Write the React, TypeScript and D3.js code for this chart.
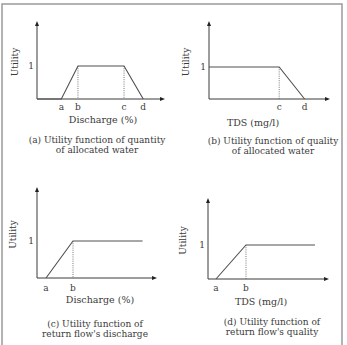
import React, { useEffect, useRef } from "react";
import * as d3 from "d3";

// breakpoints of each utility function, x in % of the axis length, u = utility
const utilA = [
  { x: 0, u: 0 },
  { x: 19, u: 0 },
  { x: 32, u: 1 },
  { x: 68, u: 1 },
  { x: 83, u: 0 },
];
const ticksA = [
  { label: "a", x: 19 },
  { label: "b", x: 32 },
  { label: "c", x: 68 },
  { label: "d", x: 83 },
];
const dottedA = [32, 68];

const utilB = [
  { x: 0, u: 1 },
  { x: 58, u: 1 },
  { x: 79, u: 0 },
];
const ticksB = [
  { label: "c", x: 58 },
  { label: "d", x: 79 },
];
const dottedB = [58];

const utilC = [
  { x: 7.5, u: 0 },
  { x: 30, u: 1 },
  { x: 88, u: 1 },
];
const ticksC = [
  { label: "a", x: 7.5 },
  { label: "b", x: 30 },
];
const dottedC = [30];

const utilD = [
  { x: 6.6, u: 0 },
  { x: 31.4, u: 1 },
  { x: 88.4, u: 1 },
];
const ticksD = [
  { label: "a", x: 6.6 },
  { label: "b", x: 31.4 },
];
const dottedD = [31.4];

const xTitles = ["Discharge (%)", "TDS (mg/l)", "Discharge (%)", "TDS (mg/l)"];
const captions = [
  ["(a) Utility function of quantity", "of allocated water"],
  ["(b) Utility function of quality", "of allocated water"],
  ["(c) Utility function of", "return flow's discharge"],
  ["(d) Utility function of", "return flow's quality"],
];

// panel frames: axis origin, axis end, y of utility = 1, axis top
const frames = [
  { x0: 37, x1: 165, base: 99, one: 66, top: 21, capX: 97, capY: 140, titleX: 103, titleY: 120, tickY: 107, utilX: 15 },
  { x0: 209, x1: 330, base: 99, one: 67, top: 21, capX: 273, capY: 141, titleX: 253, titleY: 123, tickY: 107, utilX: 186 },
  { x0: 37, x1: 157, base: 278, one: 241, top: 187, capX: 95, capY: 324, titleX: 100, titleY: 300, tickY: 288, utilX: 13 },
  { x0: 208, x1: 329, base: 279, one: 245, top: 198, capX: 272, capY: 322, titleX: 261, titleY: 302, tickY: 288, utilX: 183 },
];

const panels = [
  { util: utilA, ticks: ticksA, dotted: dottedA },
  { util: utilB, ticks: ticksB, dotted: dottedB },
  { util: utilC, ticks: ticksC, dotted: dottedC },
  { util: utilD, ticks: ticksD, dotted: dottedD },
];

const FONT = "'DejaVu Serif', serif";
const INK = "#3a3a3a";

export default function App() {
  const ref = useRef<SVGSVGElement>(null);

  useEffect(() => {
    const svg = d3.select(ref.current);
    svg.selectAll("*").remove();

    // outer frame (bottom edge runs off the picture)
    svg
      .append("rect")
      .attr("x", 2)
      .attr("y", 4)
      .attr("width", 340)
      .attr("height", 360)
      .attr("fill", "none")
      .attr("stroke", "#9a9a9a")
      .attr("stroke-width", 1.5);

    panels.forEach((p, i) => {
      const f = frames[i];
      const x = d3.scaleLinear().domain([0, 100]).range([f.x0, f.x1]);
      const y = d3.scaleLinear().domain([0, 1]).range([f.base, f.one]);
      const g = svg.append("g");

      // axes
      g.append("line")
        .attr("x1", f.x0).attr("x2", f.x0)
        .attr("y1", f.base).attr("y2", f.top + 3)
        .attr("stroke", INK).attr("stroke-width", 1);
      g.append("line")
        .attr("x1", f.x0).attr("x2", f.x1 - 3)
        .attr("y1", f.base).attr("y2", f.base)
        .attr("stroke", INK).attr("stroke-width", 1);
      g.append("path")
        .attr("d", `M${f.x0},${f.top} L${f.x0 - 2},${f.top + 5} L${f.x0 + 2},${f.top + 5} Z`)
        .attr("fill", "#222");
      g.append("path")
        .attr("d", `M${f.x1},${f.base} L${f.x1 - 5},${f.base - 2} L${f.x1 - 5},${f.base + 2} Z`)
        .attr("fill", "#222");

      // dotted guides
      g.selectAll("line.dot")
        .data(p.dotted)
        .join("line")
        .attr("x1", (d) => x(d)).attr("x2", (d) => x(d))
        .attr("y1", y(1)).attr("y2", y(0))
        .attr("stroke", "#555")
        .attr("stroke-width", 0.8)
        .attr("stroke-dasharray", "1,1.2");

      // utility function
      const line = d3.line<{ x: number; u: number }>().x((d) => x(d.x)).y((d) => y(d.u));
      g.append("path")
        .attr("d", line(p.util))
        .attr("fill", "none")
        .attr("stroke", "#505050")
        .attr("stroke-width", 1.1);

      // tick letters
      g.selectAll("text.tick")
        .data(p.ticks)
        .join("text")
        .attr("x", (d) => x(d.x))
        .attr("y", f.tickY)
        .attr("dy", "0.35em")
        .attr("text-anchor", "middle")
        .attr("font-family", FONT)
        .attr("font-size", 9)
        .attr("fill", INK)
        .text((d) => d.label);

      // "1"
      g.append("text")
        .attr("x", f.x0 - 6)
        .attr("y", y(1))
        .attr("dy", "0.35em")
        .attr("text-anchor", "middle")
        .attr("font-family", FONT)
        .attr("font-size", 9)
        .attr("fill", INK)
        .text("1");

      // y title
      g.append("text")
        .attr("transform", `translate(${f.utilX},${(f.top + f.base) / 2 + 2}) rotate(-90)`)
        .attr("dy", "0.35em")
        .attr("text-anchor", "middle")
        .attr("font-family", FONT)
        .attr("font-size", 9)
        .attr("fill", INK)
        .text("Utility");

      // x title
      g.append("text")
        .attr("x", f.titleX)
        .attr("y", f.titleY)
        .attr("dy", "0.35em")
        .attr("text-anchor", "middle")
        .attr("font-family", FONT)
        .attr("font-size", 9.5)
        .attr("fill", INK)
        .text(xTitles[i]);

      // caption
      captions[i].forEach((c, k) => {
        g.append("text")
          .attr("x", f.capX)
          .attr("y", f.capY + k * 10)
          .attr("dy", "0.35em")
          .attr("text-anchor", "middle")
          .attr("font-family", FONT)
          .attr("font-size", 9)
          .attr("fill", INK)
          .text(c);
      });
    });
  }, []);

  return (
    <svg
      ref={ref}
      width={347}
      height={345}
      style={{ position: "absolute", left: 0, top: 0, background: "#fff" }}
    />
  );
}
